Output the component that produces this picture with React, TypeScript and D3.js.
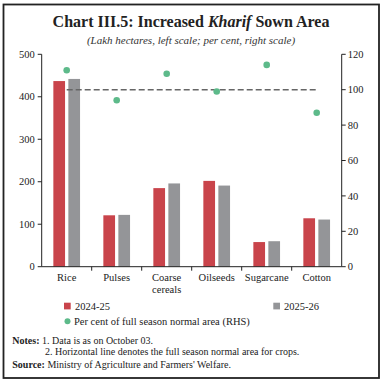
import React from "react";
import * as d3 from "d3";

const categories = ["Rice", "Pulses", "Coarse cereals", "Oilseeds", "Sugarcane", "Cotton"];
const series2024 = [437, 121, 185, 202, 58, 114];
const series2025 = [442, 122, 196, 191, 60, 111];
const pctNormal = [111, 94, 109, 99, 114, 87];
const leftTicks = [0, 100, 200, 300, 400, 500];
const rightTicks = [0, 20, 40, 60, 80, 100, 120];
const normalLine = 100;

const RED = "#C9444B";
const GRAY = "#949598";
const GREEN = "#5DBA8A";
const FONT = "'Liberation Serif', serif";

export default function App() {
  const x0 = 41.7, x1 = 341.7, yTop = 54.3, yBot = 266.7;
  const x = d3.scaleBand<string>().domain(categories).range([x0, x1]);
  const yL = d3.scaleLinear().domain([0, 500]).range([yBot, yTop]);
  const yR = d3.scaleLinear().domain([0, 120]).range([yBot, yTop]);
  const barW = 11.7;
  const gap = 3.3;
  const bw = x.bandwidth();
  const center = (c: string) => (x(c) as number) + bw / 2;

  return (
    <svg width={382} height={383} style={{ position: "absolute", left: 0, top: 0, background: "#fff" }} fontFamily={FONT}>
      <rect x={3.5} y={4.5} width={375.5} height={373.5} fill="none" stroke="#222" strokeWidth={1.8} />
      <text x={191} y={27} textAnchor="middle" fontSize={16} fontWeight="bold" fill="#222">
        Chart III.5: Increased <tspan fontStyle="italic">Kharif</tspan> Sown Area
      </text>
      <text x={191} y={44} textAnchor="middle" fontSize={11} fontStyle="italic" fill="#333">
        (Lakh hectares, left scale; per cent, right scale)
      </text>

      {/* bars */}
      {categories.map((c, i) => (
        <g key={c}>
          <rect x={center(c) - gap / 2 - barW} y={yL(series2024[i])} width={barW} height={yBot - yL(series2024[i])} fill={RED} />
          <rect x={center(c) + gap / 2} y={yL(series2025[i])} width={barW} height={yBot - yL(series2025[i])} fill={GRAY} />
        </g>
      ))}

      {/* normal line */}
      <line x1={center(categories[0])} x2={center(categories[categories.length - 1])} y1={yR(normalLine)} y2={yR(normalLine)} stroke="#666" strokeWidth={1.5} strokeDasharray="6,3" />

      {/* dots */}
      {categories.map((c, i) => (
        <circle key={c} cx={center(c)} cy={yR(pctNormal[i])} r={3.3} fill={GREEN} />
      ))}

      {/* left axis */}
      <line x1={x0} x2={x0} y1={yTop} y2={yBot} stroke="#222" strokeWidth={1} />
      {leftTicks.map((t) => (
        <g key={t}>
          <line x1={x0 - 4} x2={x0} y1={yL(t)} y2={yL(t)} stroke="#222" />
          <text x={x0 - 7} y={yL(t)} dy="0.35em" textAnchor="end" fontSize={10.5} fill="#222">{t}</text>
        </g>
      ))}
      {/* right axis */}
      <line x1={x1} x2={x1} y1={yTop} y2={yBot} stroke="#222" strokeWidth={1} />
      {rightTicks.map((t) => (
        <g key={t}>
          <line x1={x1} x2={x1 + 4} y1={yR(t)} y2={yR(t)} stroke="#222" />
          <text x={x1 + 6} y={yR(t)} dy="0.35em" textAnchor="start" fontSize={10.5} fill="#222">{t}</text>
        </g>
      ))}
      {/* bottom axis */}
      <line x1={x0} x2={x1} y1={yBot} y2={yBot} stroke="#222" strokeWidth={1} />
      {categories.map((c, i) => (
        <g key={c}>
          {i > 0 && <line x1={x(c)} x2={x(c)} y1={yBot} y2={yBot + 4} stroke="#222" />}
          {c.split(" ").map((w, j) => (
            <text key={w} x={center(c)} y={281 + j * 12} textAnchor="middle" fontSize={10.5} fill="#222">{w}</text>
          ))}
        </g>
      ))}

      {/* legend */}
      <rect x={64} y={302.7} width={6.7} height={6.7} fill={RED} />
      <text x={75} y={309.5} fontSize={10.5} fill="#222">2024-25</text>
      <rect x={273.3} y={302.7} width={6.7} height={6.7} fill={GRAY} />
      <text x={284} y={309.5} fontSize={10.5} fill="#222">2025-26</text>
      <circle cx={67.5} cy={321.3} r={3} fill={GREEN} />
      <text x={74} y={324.8} fontSize={10.5} fill="#222">Per cent of full season normal area (RHS)</text>

      {/* notes */}
      <text x={12.3} y={343.5} fontSize={10} fill="#222">
        <tspan fontWeight="bold">Notes:</tspan> 1. Data is as on October 03.
      </text>
      <text x={45} y={355} fontSize={10} fill="#222">2. Horizontal line denotes the full season normal area for crops.</text>
      <text x={12.3} y={368} fontSize={10} fill="#222">
        <tspan fontWeight="bold">Source:</tspan> Ministry of Agriculture and Farmers' Welfare.
      </text>
    </svg>
  );
}
